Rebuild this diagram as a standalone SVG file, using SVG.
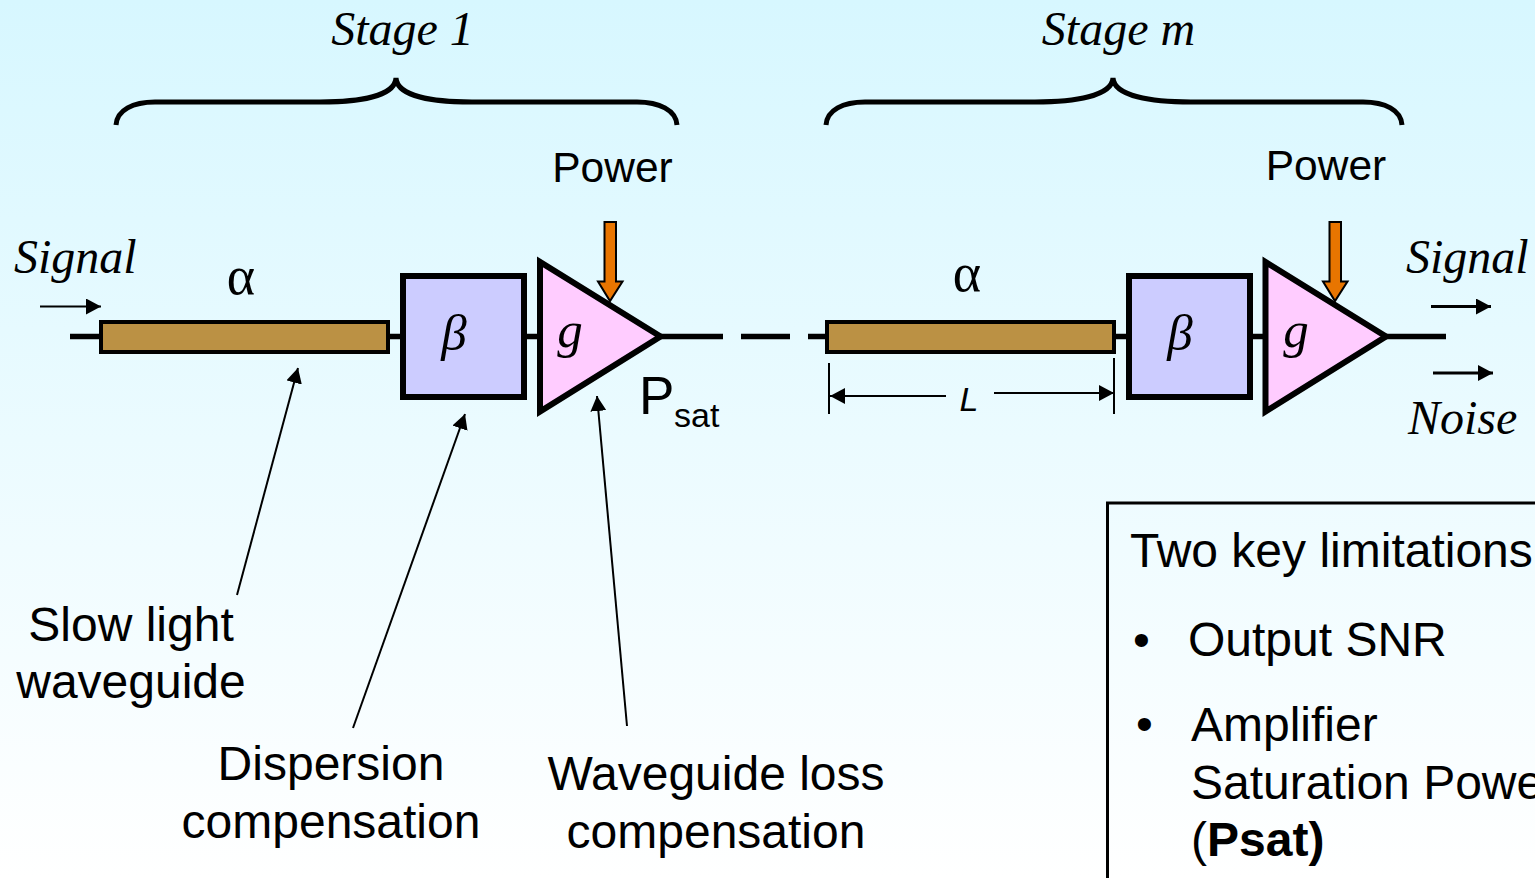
<svg xmlns="http://www.w3.org/2000/svg" width="1535" height="878" viewBox="0 0 1535 878">
<style>
.s{font-family:"Liberation Sans",Arial,sans-serif;font-size:48px;fill:#000}
.p{font-size:42.500px}
.t{font-family:"Liberation Serif","Times New Roman",serif;font-style:italic;font-size:48px;fill:#000}
.a{font-family:"Liberation Serif","Times New Roman",serif;font-size:54px;fill:#000}
.sym{font-size:51px}
.m{text-anchor:middle}
.w{stroke:#000;stroke-width:5.5;fill:none}
.brace{stroke:#000;stroke-width:5;fill:none}
.guide{fill:#bb9144;stroke:#000;stroke-width:4}
.disp{fill:#ccccff;stroke:#000;stroke-width:6}
.amp{fill:#ffccff;stroke:#000;stroke-width:6;stroke-miterlimit:10}
.pump{fill:#e87500;stroke:#000;stroke-width:2}
.th{stroke:#000;stroke-width:2;fill:none}
.th3{stroke:#000;stroke-width:3;fill:none}
</style>
<defs>
<linearGradient id="bg" x1="0" y1="0" x2="0" y2="1">
<stop offset="0" stop-color="#d7f7ff"/><stop offset="1" stop-color="#ffffff"/>
</linearGradient>
<marker id="h" markerUnits="userSpaceOnUse" markerWidth="16" markerHeight="16" refX="15" refY="8" orient="auto">
<path d="M0 0L15 8L0 16Z" fill="#000"/>
</marker>
</defs>
<rect width="1535" height="878" fill="url(#bg)"/>

<g id="connectors">
<path class="w" d="M70 336.500H100M388 336.500H401M526 336.500H538M660 336.500H723M741 336.500H790M808 336.500H827M1114 336.500H1127M1252 336.500H1264M1386 336.500H1446"/>
<path class="brace" d="M116 125C117 110 133 102 155 102H320C360 102 395 96 396 78C397 96 432 102 472 102H637C659 102 676 110 677 125"/>
<path class="brace" d="M826 125C827 110 843 102 865 102H1035C1075 102 1112 96 1113 78C1114 96 1151 102 1191 102H1363C1385 102 1401 110 1402 125"/>
<path class="th" marker-end="url(#h)" d="M40 306.500H101"/>
<path class="th3" marker-end="url(#h)" d="M1431 306.500H1491"/>
<path class="th3" marker-end="url(#h)" d="M1433 373H1493"/>
<path class="th" d="M829 363V414M1114 358V414"/>
<path class="th" marker-end="url(#h)" d="M946 396H830"/>
<path class="th" marker-end="url(#h)" d="M994 393H1114"/>
<path class="th" marker-end="url(#h)" d="M237 595L298 368"/>
<path class="th" marker-end="url(#h)" d="M353 728L465 414"/>
<path class="th" marker-end="url(#h)" d="M627 726L597 396"/>
</g>

<g id="stage1-label"><text class="t m" x="402.500" y="45">Stage 1</text></g>
<g id="stagem-label"><text class="t m" x="1118.500" y="45">Stage m</text></g>
<g id="power1"><text class="s p m" x="612.500" y="182">Power</text></g>
<g id="powerm"><text class="s p m" x="1326" y="180">Power</text></g>
<g id="signal-in"><text class="t" x="14" y="272.500">Signal</text></g>
<g id="signal-out"><text class="t" x="1406" y="272.500">Signal</text></g>
<g id="noise"><text class="t" x="1408" y="433.500">Noise</text></g>

<g id="waveguide1"><rect class="guide" x="101" y="322" width="287" height="30"/><text class="a m" x="241" y="294">α</text></g>
<g id="disp1"><rect class="disp" x="403" y="276" width="121" height="121"/><text class="t m sym" x="454" y="350">β</text></g>
<g id="amp1"><path class="amp" d="M540 262V411.500L660.500 336.500Z"/><text class="t m sym" x="570" y="347">g</text></g>
<g id="pump1"><path class="pump" d="M604.500 222H616V281.500H622.500L610 301L598 281.500H604.500Z"/></g>
<g id="psat"><text class="s" x="639" y="414" style="font-size:53px">P</text><text class="s" x="674" y="427" style="font-size:34px">sat</text></g>

<g id="waveguidem"><rect class="guide" x="827" y="322" width="287" height="30"/><text class="a m" x="967" y="291">α</text></g>
<g id="dispm"><rect class="disp" x="1129" y="276" width="121" height="121"/><text class="t m sym" x="1180" y="350">β</text></g>
<g id="ampm"><path class="amp" d="M1265.500 262V411.500L1386 336.500Z"/><text class="t m sym" x="1296" y="347">g</text></g>
<g id="pumpm"><path class="pump" d="M1329.500 222H1341V281.500H1347.500L1335 301L1323 281.500H1329.500Z"/></g>
<g id="length"><text class="s m" x="969" y="411" style="font-size:34px;font-style:italic">L</text></g>

<g id="label-slow"><text class="s m" x="131" y="641">Slow light</text><text class="s m" x="131" y="698">waveguide</text></g>
<g id="label-disp"><text class="s m" x="331" y="780">Dispersion</text><text class="s m" x="331" y="838">compensation</text></g>
<g id="label-loss"><text class="s m" x="716" y="790">Waveguide loss</text><text class="s m" x="716" y="848">compensation</text></g>

<g id="limits">
<path d="M1535 503H1107.500V878" fill="none" stroke="#000" stroke-width="3"/>
<text class="s" x="1130" y="567">Two key limitations</text>
<text class="s" x="1133" y="656">•</text>
<text class="s" x="1188" y="656">Output SNR</text>
<text class="s" x="1136" y="740">•</text>
<text class="s" x="1191" y="741">Amplifier</text>
<text class="s" x="1191" y="799">Saturation Power</text>
<text class="s" x="1191" y="856">(<tspan font-weight="bold">Psat)</tspan></text>
</g>
</svg>
